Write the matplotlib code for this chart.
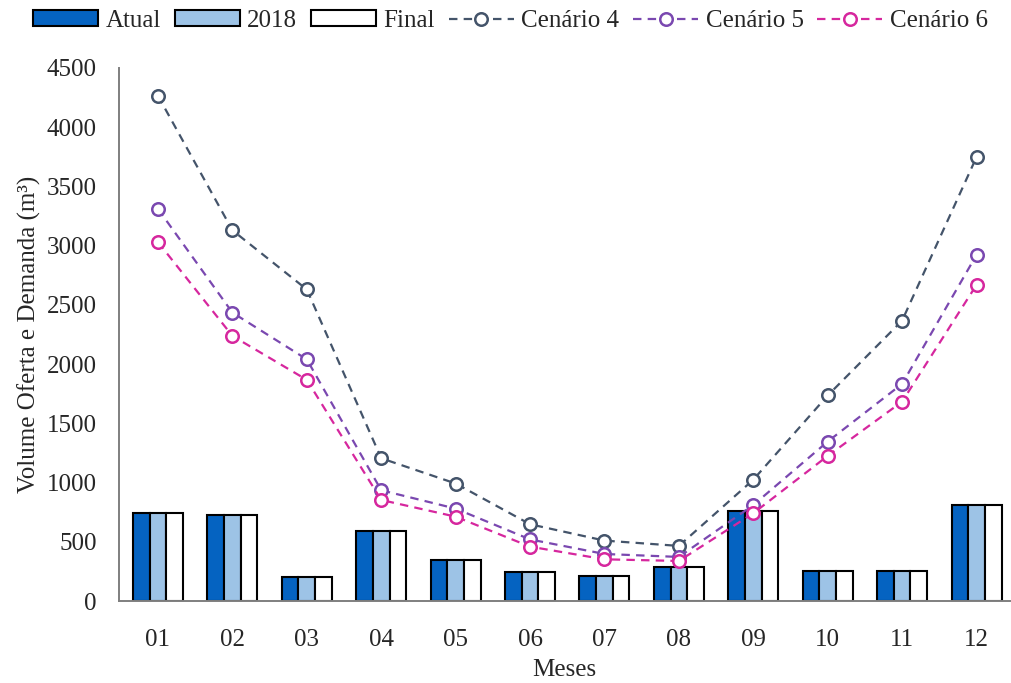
import matplotlib
matplotlib.use("Agg")
import matplotlib.pyplot as plt
import numpy as np

plt.rcParams['font.family'] = ['Liberation Serif', 'DejaVu Serif']

meses = ["01", "02", "03", "04", "05", "06", "07", "08", "09", "10", "11", "12"]

atual = [740, 730, 205, 590, 346, 244, 214, 287, 763, 253, 253, 811]
v2018 = [740, 730, 205, 590, 346, 244, 214, 287, 763, 253, 253, 811]
final = [740, 730, 205, 590, 346, 244, 214, 287, 763, 253, 253, 811]

cenario4 = [4265, 3130, 2630, 1205, 992, 648, 510, 465, 1024, 1735, 2367, 3748]
cenario5 = [3310, 2435, 2040, 935, 780, 520, 397, 372, 810, 1346, 1833, 2922]
cenario6 = [3030, 2238, 1867, 853, 712, 459, 352, 338, 741, 1225, 1683, 2669]

yticks = [0, 500, 1000, 1500, 2000, 2500, 3000, 3500, 4000, 4500]

FS = 18
TXT = '#262626'

fig = plt.figure(figsize=(10.11, 6.83), dpi=100)
ax = fig.add_axes([119 / 1011, 1 - 601 / 683, 891 / 1011, 533 / 683])

x = np.arange(len(meses))
w = 0.224
bar_kw = dict(width=w, edgecolor='black', linewidth=1.5, zorder=2)
b1 = ax.bar(x - w, atual, color='#0563c1', label='Atual', **bar_kw)
b2 = ax.bar(x, v2018, color='#9dc3e6', label='2018', **bar_kw)
b3 = ax.bar(x + w, final, color='white', label='Final', **bar_kw)

line_kw = dict(linestyle='--', dashes=(3.8, 2.8), linewidth=1.6, marker='o',
               markersize=9, markerfacecolor='white', markeredgewidth=1.8, zorder=3)
l4, = ax.plot(x, cenario4, color='#44546a', label='Cenário 4', **line_kw)
l5, = ax.plot(x, cenario5, color='#7a48b0', label='Cenário 5', **line_kw)
l6, = ax.plot(x, cenario6, color='#d6279e', label='Cenário 6', **line_kw)

ax.set_xlim(-0.524, 11.45)
ax.set_ylim(0, 4500)
ax.set_xticks(x)
ax.set_xticklabels(meses)
ax.set_yticks(yticks)
ax.tick_params(axis='both', length=0, labelsize=FS, colors=TXT)
ax.tick_params(axis='x', pad=20)
ax.tick_params(axis='y', pad=16)

for s in ('top', 'right'):
    ax.spines[s].set_visible(False)
for s in ('left', 'bottom'):
    ax.spines[s].set_color('#7f7f7f')
    ax.spines[s].set_linewidth(1.4)

ax.set_xlabel('Meses', fontsize=FS, color=TXT, labelpad=6)
ax.set_ylabel('Volume Oferta e Demanda (m³)', fontsize=FS, color=TXT, labelpad=4)

handles = [b1, b2, b3, l4, l5, l6]
labels = ['Atual', '2018', 'Final', 'Cenário 4', 'Cenário 5', 'Cenário 6']
fig.legend(handles, labels, loc='upper center', bbox_to_anchor=(0.505, 1.018), ncol=6,
           frameon=False, fontsize=FS, handlelength=2.6, handleheight=0.6,
           handletextpad=0.3, columnspacing=0.55, labelcolor=TXT)

fig.savefig('out.png', dpi=100)
